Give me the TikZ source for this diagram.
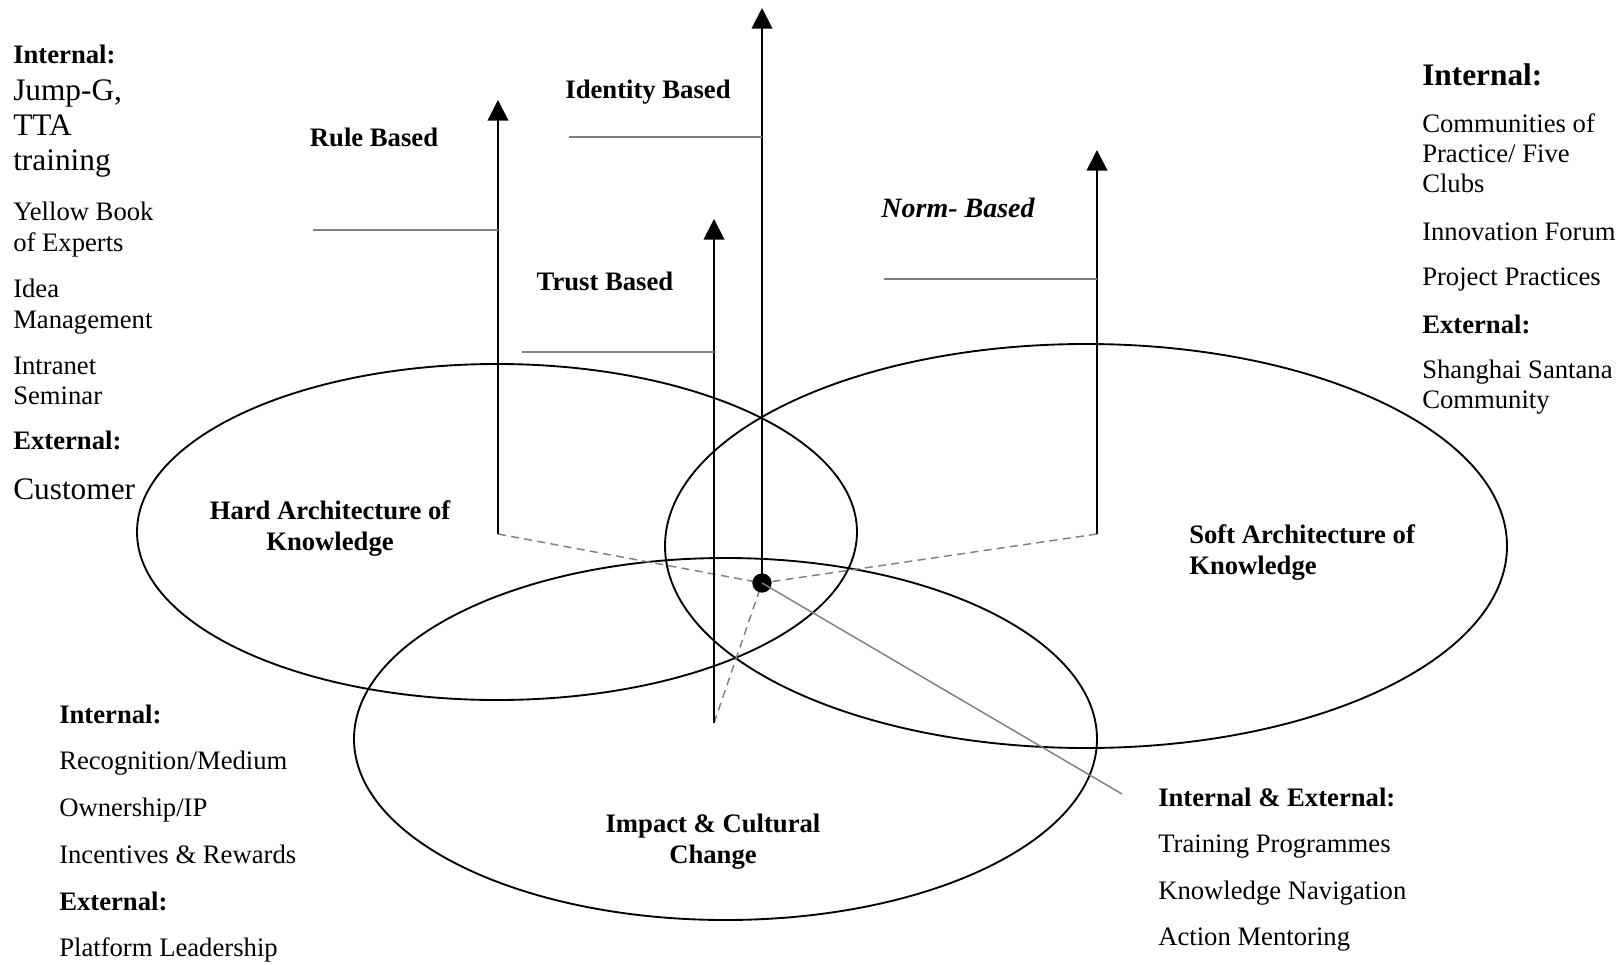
\documentclass[tikz,border=0pt]{standalone}
\usepackage{fontspec}
\setmainfont{Liberation Serif}
\usetikzlibrary{arrows.meta,shapes.geometric}
\begin{document}
\begin{tikzpicture}[x=0.75pt,y=-0.75pt,
  txt/.style={anchor=base west, inner sep=0pt, font=\fontsize{20}{23.25}\selectfont},
  bigtxt/.style={anchor=base west, inner sep=0pt, font=\fontsize{23.5}{27}\selectfont},
  hd/.style={anchor=base west, inner sep=0pt, font=\fontsize{20}{23.25}\selectfont\bfseries},
  bighd/.style={anchor=base west, inner sep=0pt, font=\fontsize{23.5}{27}\selectfont\bfseries},
  lbl/.style={anchor=base, inner sep=0pt, align=center, font=\fontsize{20}{23.25}\selectfont\bfseries},
  region/.style={draw, ellipse, line width=1.4pt, inner sep=0pt},
  axis/.style={line width=1.5pt, -{Triangle[length=15.5pt,width=15.5pt]}},
  tick/.style={draw=black!50, line width=1.1pt},
  link/.style={draw=black!50, line width=1.1pt, dash pattern=on 6pt off 4pt},
]
\useasboundingbox (0,0) rectangle (1620,964);

% the three overlapping regions
\node[region, minimum width=540pt, minimum height=252pt] (hard) at (497,532) {};
\node[region, minimum width=631.5pt, minimum height=303pt] (soft) at (1086,546) {};
\node[region, minimum width=557.25pt, minimum height=271.5pt] (impact) at (725.5,739) {};

% axis feet and tips
\coordinate (hub) at (762,583);
\coordinate (ruleBase) at (498,534);   \coordinate (ruleTip) at (498,100);
\coordinate (trustBase) at (714,723);  \coordinate (trustTip) at (714,219);
\coordinate (normBase) at (1097,534);  \coordinate (normTip) at (1097,150);
\coordinate (idTip) at (762,8);

% dashed links from the axis feet to the hub
\draw[link] (ruleBase) -- (hub);
\draw[link] (normBase) -- (hub);
\draw[link] (trustBase) -- (hub);

% vertical axes
\draw[axis] (ruleBase) -- (ruleTip);
\draw[axis] (trustBase) -- (trustTip);
\draw[axis] (normBase) -- (normTip);
\draw[axis] (hub) -- (idTip);

% central hub
\node[circle, fill=black, minimum size=14.5pt, inner sep=0pt] (hubdot) at (hub) {};

% level markers on the axes
\coordinate (ruleMark) at (313,230);
\coordinate (idMark) at (569,137);
\coordinate (trustMark) at (522,352);
\coordinate (normMark) at (884,279);
\draw[tick] (ruleMark) -- (ruleMark -| ruleBase);
\draw[tick] (idMark) -- (idMark -| hub);
\draw[tick] (trustMark) -- (trustMark -| trustBase);
\draw[tick] (normMark) -- (normMark -| normBase);

% pointer to the lower right list
\coordinate (pointerEnd) at (1122,794);
\draw[tick] (hub) -- (pointerEnd);

% axis labels
\node[lbl] (idLbl) at (648,98) {Identity Based};
\node[lbl] (ruleLbl) at (374,146) {Rule Based};
\node[lbl] (trustLbl) at (605,290) {Trust Based};
\node[lbl, font=\fontsize{21}{24}\selectfont\bfseries\itshape] (normLbl) at (958,217) {Norm- Based};

% region labels (anchored on the baseline of their last line)
\node[lbl] (hardLbl) at (330,550) {Hard Architecture of\\Knowledge};
\node[lbl, anchor=base west, align=left] (softLbl) at (1189,574) {Soft Architecture of\\Knowledge};
\node[lbl] (impactLbl) at (713,863) {Impact \& Cultural\\Change};

% upper left list
\node[hd] (a1) at (13,63) {Internal:};
\node[bigtxt] (a2) at (13,100) {Jump-G,};
\node[bigtxt] (a3) at (13,135) {TTA};
\node[bigtxt] (a4) at (13,170) {training};
\node[txt] (a5) at (13,220) {Yellow Book};
\node[txt] (a6) at (13,251) {of Experts};
\node[txt] (a7) at (13,297) {Idea};
\node[txt] (a8) at (13,328) {Management};
\node[txt] (a9) at (13,374) {Intranet};
\node[txt] (a10) at (13,404) {Seminar};
\node[hd] (a11) at (13,449) {External:};
\node[bigtxt] (a12) at (13,499) {Customer};

% upper right list
\node[bighd] (b1) at (1422,85) {Internal:};
\node[txt] (b2) at (1422,132) {Communities of};
\node[txt] (b3) at (1422,162) {Practice/ Five};
\node[txt] (b4) at (1422,192) {Clubs};
\node[txt] (b5) at (1422,240) {Innovation Forum};
\node[txt] (b6) at (1422,285) {Project Practices};
\node[hd] (b7) at (1422,333) {External:};
\node[txt] (b8) at (1422,378) {Shanghai Santana};
\node[txt] (b9) at (1422,408) {Community};

% lower left list
\node[hd] (c1) at (59,723) {Internal:};
\node[txt] (c2) at (59,769) {Recognition/Medium};
\node[txt] (c3) at (59,816) {Ownership/IP};
\node[txt] (c4) at (59,863) {Incentives \& Rewards};
\node[hd] (c5) at (59,910) {External:};
\node[txt] (c6) at (59,956) {Platform Leadership};

% lower right list
\node[hd] (d1) at (1158,806) {Internal \& External:};
\node[txt] (d2) at (1158,852) {Training Programmes};
\node[txt] (d3) at (1158,899) {Knowledge Navigation};
\node[txt] (d4) at (1158,945) {Action Mentoring};
\end{tikzpicture}
\end{document}
